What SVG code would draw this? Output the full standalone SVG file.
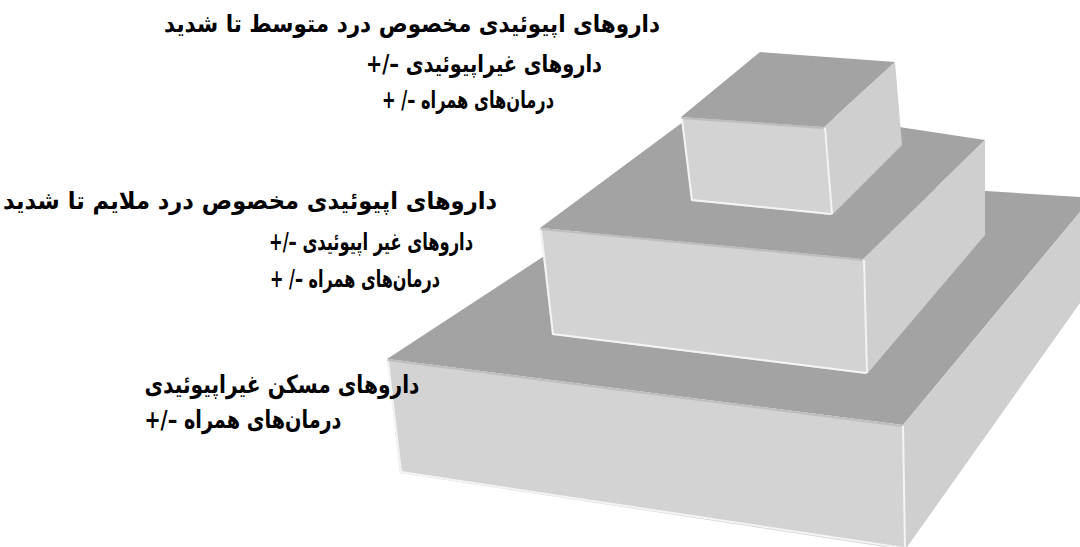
<svg xmlns="http://www.w3.org/2000/svg" width="1080" height="547" viewBox="0 0 1080 547">
<style>
.top{fill:#a3a3a3}
.front{fill:#d3d3d3}
.side{fill:#cfcfcf}
.hl{fill:none;stroke:#f4f4f4;stroke-width:2;stroke-linejoin:round}
.rim{fill:none;stroke:#bdbdbd;stroke-width:2}
.lbl{font-family:"DejaVu Sans",sans-serif;font-weight:bold;font-size:24px;fill:#000;text-anchor:middle;direction:rtl}
.big{font-size:25px}
</style>
<rect width="1080" height="547" fill="#ffffff"/>
<g id="tier-bottom">
<polygon class="top" points="387,359 674,171 1080,197 1080,212 903,425"/>
<polygon class="side" points="903,425 1080,212 1080,303 905,550"/>
<polygon class="front" points="387,359 903,425 905,550 400,473"/>
<polyline class="hl" points="388,361 401,472 904,548"/>
<line class="hl" x1="903" y1="426" x2="905" y2="548"/>
<line class="rim" x1="388" y1="360" x2="902" y2="426"/>
</g>
<g id="tier-middle">
<polygon class="top" points="540,228 714,99 985,140 863,259"/>
<polygon class="side" points="863,259 985,140 985,235 867,374"/>
<polygon class="front" points="540,228 863,259 867,374 552,335"/>
<polyline class="hl" points="541,230 553,334 866,373"/>
<line class="hl" x1="864" y1="260" x2="867" y2="373"/>
<line class="rim" x1="541" y1="229" x2="862" y2="260"/>
</g>
<g id="tier-top">
<polygon class="top" points="681,117 760,52 895,62 824,127"/>
<polygon class="side" points="824,127 895,62 902,145 832,215"/>
<polygon class="front" points="681,117 824,127 832,215 691,201"/>
<polyline class="hl" points="682,119 692,200 831,214"/>
<line class="hl" x1="825" y1="128" x2="832" y2="214"/>
<line class="rim" x1="682" y1="118" x2="823" y2="128"/>
</g>
<g id="label-top">
<text class="lbl" x="412" y="32" textLength="496" lengthAdjust="spacingAndGlyphs">داروهای اپیوئیدی مخصوص درد متوسط تا شدید</text>
<text class="lbl" x="484" y="72" textLength="236" lengthAdjust="spacingAndGlyphs">داروهای غیراپیوئیدی –/+</text>
<text class="lbl" x="468" y="108" textLength="172" lengthAdjust="spacingAndGlyphs">درمان‌های همراه –/ +</text>
</g>
<g id="label-middle">
<text class="lbl" x="250" y="209" textLength="494" lengthAdjust="spacingAndGlyphs">داروهای اپیوئیدی مخصوص درد ملایم تا شدید</text>
<text class="lbl" x="371" y="250" textLength="204" lengthAdjust="spacingAndGlyphs">داروهای غیر اپیوئیدی –/+</text>
<text class="lbl" x="355" y="287" textLength="170" lengthAdjust="spacingAndGlyphs">درمان‌های همراه –/ +</text>
</g>
<g id="label-bottom">
<text class="lbl big" x="282" y="393" textLength="275" lengthAdjust="spacingAndGlyphs">داروهای مسکن غیراپیوئیدی</text>
<text class="lbl big" x="243" y="428" textLength="197" lengthAdjust="spacingAndGlyphs">درمان‌های همراه –/+</text>
</g>
</svg>
